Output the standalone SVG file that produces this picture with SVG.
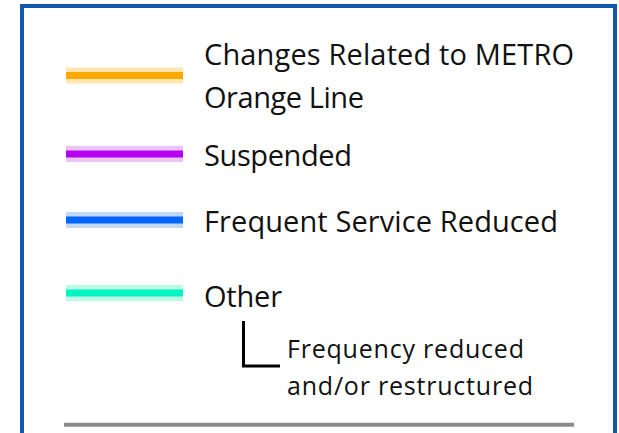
<svg xmlns="http://www.w3.org/2000/svg" width="619" height="433" viewBox="0 0 619 433">
<style>
.lbl{font-family:"Open Sans","Noto Sans","Liberation Sans",sans-serif;font-size:29px;fill:#111;}
.sub{font-family:"Open Sans","Noto Sans","Liberation Sans",sans-serif;font-size:25px;fill:#111;}
.halo{stroke-width:16;fill:none;}
.core{stroke-width:7;fill:none;}
</style>
<rect x="0" y="0" width="619" height="433" fill="#ffffff"/>
<path id="frame" d="M22,440 V6 H615 V440" fill="none" stroke="#1458ac" stroke-width="4"/>
<g id="orange">
<line x1="66" y1="75.5" x2="183" y2="75.5" class="halo" stroke="#ffe5b0"/>
<line x1="66" y1="75.5" x2="183" y2="75.5" class="core" stroke="#ffa800"/>
<text class="lbl" x="204" y="65" textLength="370">Changes Related to METRO</text>
<text class="lbl" x="204" y="108" textLength="160">Orange Line</text>
</g>
<g id="suspended">
<line x1="66" y1="154" x2="183" y2="154" class="halo" stroke="#ecc2fa"/>
<line x1="66" y1="154" x2="183" y2="154" class="core" stroke="#b400ee"/>
<text class="lbl" x="204" y="166" textLength="148">Suspended</text>
</g>
<g id="frequent">
<line x1="66" y1="220" x2="183" y2="220" class="halo" stroke="#c2d6f6"/>
<line x1="66" y1="220" x2="183" y2="220" class="core" stroke="#0066ff"/>
<text class="lbl" x="204" y="231.5" textLength="354">Frequent Service Reduced</text>
</g>
<g id="other">
<line x1="66" y1="293" x2="183" y2="293" class="halo" stroke="#bafae6"/>
<line x1="66" y1="293" x2="183" y2="293" class="core" stroke="#00f5c0"/>
<text class="lbl" x="204" y="306.5" textLength="78">Other</text>
</g>
<g id="connectors">
<path d="M243.5,321 V366 H280" fill="none" stroke="#000" stroke-width="3"/>
</g>
<g id="subnote">
<text class="sub" x="287" y="357.5" textLength="237">Frequency reduced</text>
<text class="sub" x="287" y="395" textLength="246">and/or restructured</text>
</g>
<line id="rule" x1="64" y1="424.7" x2="574" y2="424.7" stroke="#8a8a8a" stroke-width="4"/>
</svg>
